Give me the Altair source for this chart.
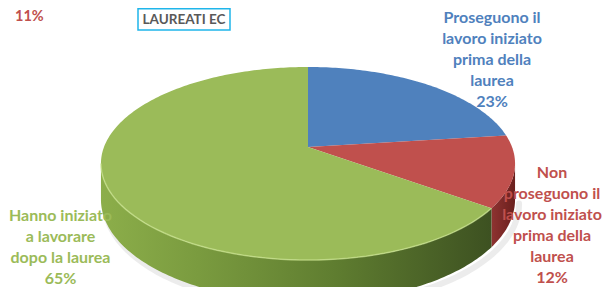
import math
import altair as alt
import pandas as pd

# ---- data ----
categories = [
    "Proseguono il lavoro iniziato prima della laurea",
    "Non proseguono il lavoro iniziato prima della laurea",
    "Hanno iniziato a lavorare dopo la laurea",
]
shares = [23, 12, 65]
label_lines = [
    ["Proseguono il", "lavoro iniziato", "prima della", "laurea", "23%"],
    ["Non", "proseguono il", "lavoro iniziato", "prima della", "laurea", "12%"],
    ["Hanno iniziato", "a lavorare", "dopo la laurea", "65%"],
]
title_text = "LAUREATI EC"
stray_label = "11%"

# ---- styles / layout ----
top_colors = ["#4F81BD", "#C0504D", "#9BBB59"]
label_pos = [(484, 15.2), (544, 170), (52.5, 213)]
W, H = 594, 279
CX, CY = 300.0, 139.0      # apex of the pie (pixels in plot area)
R, S, K = 204.0, 93.7, -0.171   # ellipse radii and perspective factor
D0 = 35.0                  # depth of the cylinder side


def proj(theta_deg):
    t = math.radians(theta_deg)
    u, v = math.sin(t), -math.cos(t)
    w = 1 + K * v
    return CX + R * u / w, CY + S * v / w, w


# cumulative angles from the shares
bounds = [0.0]
for s in shares:
    bounds.append(bounds[-1] + s / sum(shares) * 360.0)

# top faces
rows = []
for i, cat in enumerate(categories):
    a0, a1 = bounds[i], bounds[i + 1]
    n = max(int(a1 - a0), 2)
    pts = [(CX, CY)]
    for j in range(n + 1):
        x, y, _ = proj(a0 + (a1 - a0) * j / n)
        pts.append((x, y))
    pts.append((CX, CY))
    for k, (x, y) in enumerate(pts):
        rows.append({"cat": cat, "i": k, "x": x, "y": y})
top_df = pd.DataFrame(rows)

# visible side (front half of the cylinder)
front_lo = 90 + math.degrees(math.asin(-K))
front_hi = 270 - math.degrees(math.asin(-K))


def side_df(a0, a1, name):
    a0, a1 = max(a0, front_lo), min(a1, front_hi)
    n = max(int(a1 - a0), 2)
    top, bot = [], []
    for j in range(n + 1):
        x, y, w = proj(a0 + (a1 - a0) * j / n)
        top.append((x, y))
        bot.append((x, y + D0 / w))
    pts = top + bot[::-1] + [top[0]]
    return pd.DataFrame([{"cat": name, "i": k, "x": x, "y": y} for k, (x, y) in enumerate(pts)])


red_side = side_df(bounds[1], bounds[2], "red")
green_side = side_df(bounds[2], bounds[3], "green")

# soft shadow under the pie
shadow_rows = []
for j in range(121):
    th = front_lo + (front_hi - front_lo) * j / 120
    x, y, w = proj(th)
    shadow_rows.append({"cat": "sh", "i": j, "x": x + 4, "y": y + D0 / w + 4})
shadow_df = pd.DataFrame(shadow_rows)

# rim highlight along the front edge of the green slice
rim_rows = []
a0, a1 = max(bounds[2], front_lo), min(bounds[3], front_hi)
for j in range(61):
    x, y, _ = proj(a0 + (a1 - a0) * j / 60)
    rim_rows.append({"i": j, "x": x, "y": y})
rim_df = pd.DataFrame(rim_rows)

xs = alt.Scale(domain=[0, W], nice=False, zero=False)
ys = alt.Scale(domain=[0, H], nice=False, zero=False, reverse=True)


def poly_enc():
    return dict(
        x=alt.X("x:Q", scale=xs, axis=None),
        y=alt.Y("y:Q", scale=ys, axis=None),
        order=alt.Order("i:Q"),
        detail="cat:N",
    )


shadow_layer = alt.Chart(shadow_df).mark_line(
    color="#D9D9D9", strokeWidth=6, opacity=0.5, clip=False, strokeCap="round",
).encode(**poly_enc())

red_side_layer = alt.Chart(red_side).mark_line(
    filled=True, strokeWidth=0, clip=False,
    fill=alt.Gradient(gradient="linear", x1=0, x2=1, y1=0, y2=0,
                      stops=[alt.GradientStop(color="#8E3331", offset=0),
                             alt.GradientStop(color="#6A1F1D", offset=1)]),
).encode(**poly_enc())

green_side_layer = alt.Chart(green_side).mark_line(
    filled=True, strokeWidth=0, clip=False,
    fill=alt.Gradient(gradient="linear", x1=0, x2=1, y1=0, y2=0,
                      stops=[alt.GradientStop(color="#8CAE4A", offset=0),
                             alt.GradientStop(color="#7A9B3F", offset=0.25),
                             alt.GradientStop(color="#5F7D30", offset=0.6),
                             alt.GradientStop(color="#3D5121", offset=1)]),
).encode(**poly_enc())

top_layer = alt.Chart(top_df).mark_line(filled=True, strokeWidth=0, clip=False).encode(
    **poly_enc(),
    color=alt.Color("cat:N", scale=alt.Scale(domain=categories, range=top_colors), legend=None),
)

rim_layer = alt.Chart(rim_df).mark_line(color="#C9E28F", strokeWidth=1.5, opacity=0.7, clip=False).encode(
    x=alt.X("x:Q", scale=xs, axis=None),
    y=alt.Y("y:Q", scale=ys, axis=None),
    order=alt.Order("i:Q"),
)

label_layers = []
for i in range(len(categories)):
    label_layers.append(
        alt.Chart(pd.DataFrame({"t": [label_lines[i]]})).mark_text(
            font="Lato", fontSize=16, fontWeight="bold", color=top_colors[i],
            align="center", baseline="alphabetic", lineHeight=21, clip=False,
        ).encode(text="t", x=alt.value(label_pos[i][0]), y=alt.value(label_pos[i][1]))
    )

stray = alt.Chart(pd.DataFrame({"t": [stray_label]})).mark_text(
    font="Lato", fontSize=14.5, fontWeight="bold", color="#C0504D",
    align="left", baseline="alphabetic",
).encode(text="t", x=alt.value(7), y=alt.value(12.5))

title_box = alt.Chart(pd.DataFrame({"a": [0]})).mark_rect(
    fill="white", stroke="#1FB5EA", strokeWidth=1.5,
).encode(x=alt.value(130), x2=alt.value(222), y=alt.value(0.8), y2=alt.value(22))

title_txt = alt.Chart(pd.DataFrame({"t": [title_text]})).mark_text(
    font="Lato", fontSize=13.5, fontWeight="bold", color="#595959",
    align="center", baseline="middle",
).encode(text="t", x=alt.value(176), y=alt.value(11.5))

chart = alt.layer(
    shadow_layer, red_side_layer, green_side_layer, top_layer, rim_layer,
    *label_layers, stray, title_box, title_txt,
).properties(width=W, height=H, padding=0, autosize="none").configure_view(stroke=None)

chart.save("out.html", embed_options={"renderer": "svg", "actions": False})
